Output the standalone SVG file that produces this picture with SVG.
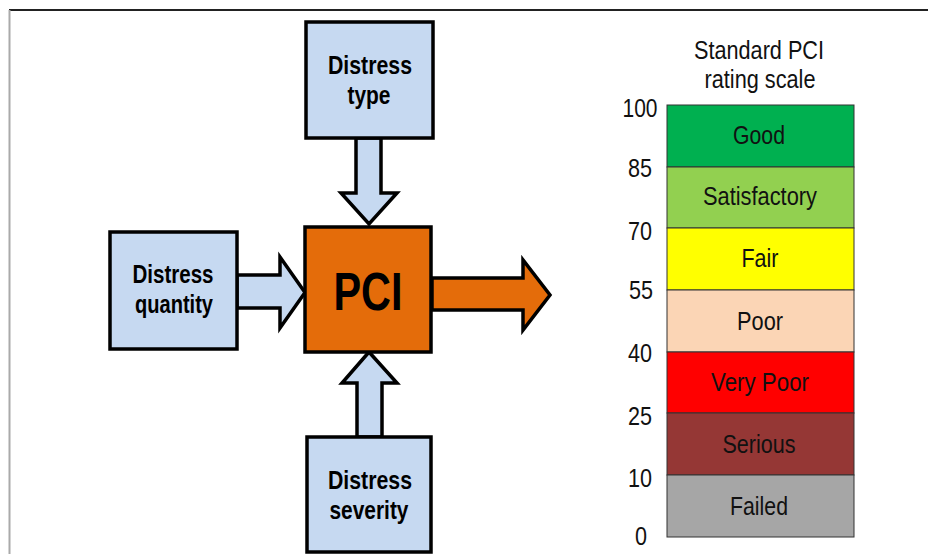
<svg xmlns="http://www.w3.org/2000/svg" width="928" height="554" viewBox="0 0 928 554">
<style>
.bx{fill:#c6d9f1;stroke:#000;stroke-width:3.5}
.ar{fill:#c6d9f1;stroke:#000;stroke-width:3.5;stroke-linejoin:miter}
.bt{font-family:"Liberation Sans",Arial,sans-serif;font-weight:bold;font-size:25px;fill:#000;text-anchor:middle}
.st{font-family:"Liberation Sans",Arial,sans-serif;font-size:25px;fill:#111;text-anchor:middle}
.bd{stroke:#333;stroke-width:1}
</style>
<rect width="928" height="554" fill="#fff"/>
<line x1="9" y1="10" x2="928" y2="10" stroke="#222" stroke-width="2"/>
<line x1="9.5" y1="10" x2="9.5" y2="554" stroke="#aaa" stroke-width="2"/>
<g id="connectors">
<path class="ar" d="M356,138 L381,138 L381,193 L397,193 L369,224 L341,193 L356,193 Z"/>
<path class="ar" d="M357,437 L357,383 L342,383 L369,352 L397,383 L382,383 L382,437 Z"/>
<path class="ar" d="M237,275 L280,275 L280,257 L305,292.5 L280,328 L280,308 L237,308 Z"/>
<path class="ar" style="fill:#e46c0a" d="M432,278 L523,278 L523,260 L550,295 L523,330 L523,310 L432,310 Z"/>
</g>
<g id="distress-type">
<rect class="bx" x="306" y="22" width="127" height="116"/>
<text class="bt" x="370" y="74" textLength="84" lengthAdjust="spacingAndGlyphs">Distress</text>
<text class="bt" x="369" y="104" textLength="43" lengthAdjust="spacingAndGlyphs">type</text>
</g>
<g id="distress-quantity">
<rect class="bx" x="110" y="232" width="127" height="117"/>
<text class="bt" x="173" y="283" textLength="81" lengthAdjust="spacingAndGlyphs">Distress</text>
<text class="bt" x="174" y="313" textLength="78" lengthAdjust="spacingAndGlyphs">quantity</text>
</g>
<g id="pci">
<rect x="305" y="227" width="126" height="125" fill="#e46c0a" stroke="#000" stroke-width="3.5"/>
<text class="bt" x="368" y="310" style="font-size:53px" textLength="69" lengthAdjust="spacingAndGlyphs">PCI</text>
</g>
<g id="distress-severity">
<rect class="bx" x="307" y="437" width="124" height="115"/>
<text class="bt" x="370" y="489" textLength="84" lengthAdjust="spacingAndGlyphs">Distress</text>
<text class="bt" x="369" y="519" textLength="79" lengthAdjust="spacingAndGlyphs">severity</text>
</g>
<g id="rating-scale">
<text class="st" x="759" y="59" textLength="130" lengthAdjust="spacingAndGlyphs">Standard PCI</text>
<text class="st" x="760" y="88" textLength="111" lengthAdjust="spacingAndGlyphs">rating scale</text>
<g class="bd">
<rect x="667" y="105" width="187" height="62" fill="#00b050"/>
<rect x="667" y="167" width="187" height="61" fill="#92d050"/>
<rect x="667" y="228" width="187" height="62" fill="#ffff00"/>
<rect x="667" y="290" width="187" height="62" fill="#fbd5b5"/>
<rect x="667" y="352" width="187" height="61" fill="#ff0000"/>
<rect x="667" y="413" width="187" height="62" fill="#953735"/>
<rect x="667" y="475" width="187" height="62" fill="#a6a6a6"/>
</g>
<text class="st" x="759" y="144" textLength="52" lengthAdjust="spacingAndGlyphs">Good</text>
<text class="st" x="760" y="205" textLength="114" lengthAdjust="spacingAndGlyphs">Satisfactory</text>
<text class="st" x="760" y="267" textLength="37" lengthAdjust="spacingAndGlyphs">Fair</text>
<text class="st" x="760" y="330" textLength="46" lengthAdjust="spacingAndGlyphs">Poor</text>
<text class="st" x="760" y="391" textLength="98" lengthAdjust="spacingAndGlyphs">Very Poor</text>
<text class="st" x="759" y="453" textLength="73" lengthAdjust="spacingAndGlyphs">Serious</text>
<text class="st" x="759" y="515" textLength="58" lengthAdjust="spacingAndGlyphs">Failed</text>
<text class="st" x="640" y="117" textLength="35" lengthAdjust="spacingAndGlyphs">100</text>
<text class="st" x="640" y="177" textLength="24" lengthAdjust="spacingAndGlyphs">85</text>
<text class="st" x="640" y="240" textLength="24" lengthAdjust="spacingAndGlyphs">70</text>
<text class="st" x="641" y="299" textLength="24" lengthAdjust="spacingAndGlyphs">55</text>
<text class="st" x="640" y="362" textLength="24" lengthAdjust="spacingAndGlyphs">40</text>
<text class="st" x="640" y="425" textLength="24" lengthAdjust="spacingAndGlyphs">25</text>
<text class="st" x="640" y="487" textLength="24" lengthAdjust="spacingAndGlyphs">10</text>
<text class="st" x="641" y="545" textLength="12" lengthAdjust="spacingAndGlyphs">0</text>
</g>
</svg>
